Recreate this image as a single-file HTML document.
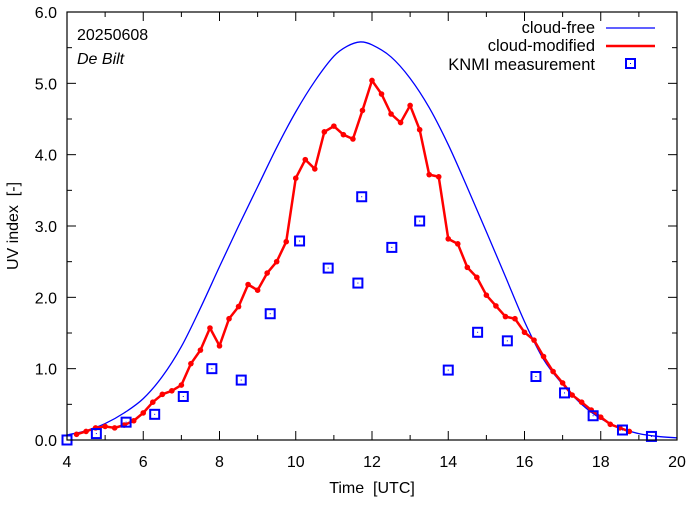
<!DOCTYPE html>
<html><head><meta charset="utf-8"><style>
body{margin:0;background:#fff}
svg text{font-family:"Liberation Sans",sans-serif;fill:#000}
</style></head><body>
<svg id="chart" width="694" height="501" xmlns="http://www.w3.org/2000/svg">
<rect x="0" y="0" width="694" height="501" fill="#fff"/>
<g id="grid"></g>
<g id="series"></g>
<rect x="67" y="12" width="610" height="428" fill="none" stroke="#000" stroke-width="1.2"/>
<text x="77" y="40" font-size="16">20250608</text>
<text x="77" y="64" font-size="16" font-style="italic">De Bilt</text>
<text x="372" y="493" font-size="16" text-anchor="middle" xml:space="preserve">Time  [UTC]</text>
<text x="0" y="0" font-size="16" text-anchor="middle" transform="translate(18,226) rotate(-90)" xml:space="preserve">UV index  [-]</text>
<g>
<text x="595" y="33" font-size="16.5" text-anchor="end">cloud-free</text>
<line x1="606" y1="28" x2="655" y2="28" stroke="#0000ff" stroke-width="1.2"/>
<text x="595" y="51" font-size="16.5" text-anchor="end">cloud-modified</text>
<line x1="606" y1="46" x2="655" y2="46" stroke="#ff0000" stroke-width="2.5"/>
<text x="595" y="70" font-size="16.5" text-anchor="end">KNMI measurement</text>
<rect x="626" y="59" width="9" height="9" fill="none" stroke="#0000ff" stroke-width="2"/>
<rect x="630" y="63" width="1" height="1" fill="#0000ff"/>
</g>
</svg>
<script>
const xTicks=[4,6,8,10,12,14,16,18,20];
const yTicks=[0,1,2,3,4,5,6];
const clearT=[4,4.5,5,5.5,6,6.5,7,7.5,8,8.5,9,9.5,10,10.5,11,11.35,11.69,12,12.5,13,13.5,14,14.5,15,15.5,16,16.5,17,17.5,18,18.5,19,19.5,20];
const clearV=[0.07,0.13,0.23,0.38,0.58,0.89,1.31,1.85,2.43,3.0,3.55,4.1,4.6,5.03,5.38,5.52,5.58,5.54,5.37,5.07,4.66,4.14,3.54,2.92,2.29,1.66,1.13,0.78,0.5,0.3,0.17,0.09,0.05,0.03];
const cloudT=[4.25,4.5,4.75,5,5.25,5.5,5.75,6,6.25,6.5,6.75,7,7.25,7.5,7.75,8,8.25,8.5,8.75,9,9.25,9.5,9.75,10,10.25,10.5,10.75,11,11.25,11.5,11.75,12,12.25,12.5,12.75,13,13.25,13.5,13.75,14,14.25,14.5,14.75,15,15.25,15.5,15.75,16,16.25,16.5,16.75,17,17.25,17.5,17.75,18,18.25,18.5,18.75];
const cloudV=[0.08,0.12,0.17,0.19,0.17,0.21,0.27,0.38,0.53,0.64,0.69,0.77,1.07,1.26,1.57,1.32,1.70,1.87,2.18,2.10,2.34,2.50,2.78,3.67,3.93,3.80,4.32,4.40,4.28,4.22,4.62,5.04,4.85,4.57,4.45,4.69,4.35,3.72,3.69,2.82,2.75,2.42,2.28,2.03,1.88,1.73,1.70,1.51,1.40,1.17,0.96,0.80,0.63,0.53,0.42,0.32,0.22,0.17,0.12];
const measT=[4.0,4.77,5.55,6.3,7.05,7.8,8.57,9.33,10.1,10.85,11.63,11.73,12.52,13.25,14.0,14.77,15.55,16.3,17.05,17.8,18.57,19.33];
const measV=[0.0,0.09,0.25,0.36,0.61,1.0,0.84,1.77,2.79,2.41,2.20,3.41,2.70,3.07,0.98,1.51,1.39,0.89,0.66,0.34,0.14,0.05];
const NS='http://www.w3.org/2000/svg';
const X=t=>67+(t-4)*610/16, Y=v=>440-v*428/6;
const g=document.getElementById('grid'), s=document.getElementById('series');
function mk(tag,attrs,parent){const e=document.createElementNS(NS,tag);for(const k in attrs)e.setAttribute(k,attrs[k]);parent.appendChild(e);return e;}
for(let t=4;t<=20;t++){const major=t%2===0;const L=major?9:5;
 mk('line',{x1:X(t),x2:X(t),y1:440,y2:440-L,stroke:'#000'},g);
 mk('line',{x1:X(t),x2:X(t),y1:12,y2:12+L,stroke:'#000'},g);}
for(let v=0;v<=6;v+=0.5){const major=v%1===0;const L=major?9:5;
 mk('line',{x1:67,x2:67+L,y1:Y(v),y2:Y(v),stroke:'#000'},g);
 mk('line',{x1:677,x2:677-L,y1:Y(v),y2:Y(v),stroke:'#000'},g);}
xTicks.forEach(t=>{const e=mk('text',{x:X(t),y:467,'font-size':16,'text-anchor':'middle'},g);e.textContent=t;

});
yTicks.forEach(v=>{const e=mk('text',{x:57,y:Y(v)+6,'font-size':16,'text-anchor':'end'},g);e.textContent=v.toFixed(1);

});
let p=clearT.map((t,i)=>[X(t),Y(clearV[i])]);
let d='M'+p[0][0]+','+p[0][1];
for(let i=0;i<p.length-1;i++){const p0=p[Math.max(0,i-1)],p1=p[i],p2=p[i+1],p3=p[Math.min(p.length-1,i+2)];
 const h=p2[0]-p1[0];
 const m1=(p2[1]-p0[1])/((p2[0]-p0[0])||1), m2=(p3[1]-p1[1])/((p3[0]-p1[0])||1);
 d+=` C${p1[0]+h/3},${p1[1]+m1*h/3} ${p2[0]-h/3},${p2[1]-m2*h/3} ${p2[0]},${p2[1]}`;}
const cf=mk('path',{d:d,fill:'none',stroke:'#0000ff','stroke-width':1.3},s);


const cm=mk('polyline',{points:cloudT.map((t,i)=>X(t)+','+Y(cloudV[i])).join(' '),fill:'none',stroke:'#ff0000','stroke-width':2.5,'stroke-linejoin':'round'},s);


cloudT.forEach((t,i)=>{const c=mk('circle',{cx:X(t),cy:Y(cloudV[i]),r:2.8,fill:'#ff0000'},s);

});
measT.forEach((t,i)=>{const r=mk('rect',{x:X(t)-4.5,y:Y(measV[i])-4.5,width:9,height:9,fill:'none',stroke:'#0000ff','stroke-width':2},s);


mk('rect',{x:X(t)-0.5,y:Y(measV[i])-0.5,width:1,height:1,fill:'#0000ff'},s);});
</script>
</body></html>
